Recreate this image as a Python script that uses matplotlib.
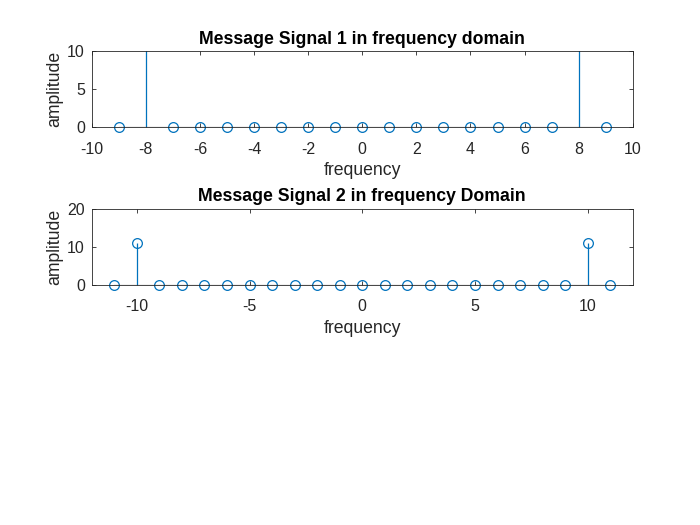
import numpy as np
import matplotlib.pyplot as plt
from matplotlib.transforms import Bbox, TransformedBbox

plt.rcParams['font.family'] = ['Liberation Sans', 'DejaVu Sans']
plt.rcParams['axes.unicode_minus'] = False

# signal 1 spectrum (peaks at +-8 run off the top of the axes)
freq1 = [-9, -8, -7, -6, -5, -4, -3, -2, -1, 0, 1, 2, 3, 4, 5, 6, 7, 8, 9]
amp1 = [0, 12, 0, 0, 0, 0, 0, 0, 0, 0, 0, 0, 0, 0, 0, 0, 0, 12, 0]

# signal 2 spectrum
freq2 = [-11, -10, -9, -8, -7, -6, -5, -4, -3, -2, -1, 0,
         1, 2, 3, 4, 5, 6, 7, 8, 9, 10, 11]
amp2 = [0, 11, 0, 0, 0, 0, 0, 0, 0, 0, 0, 0,
        0, 0, 0, 0, 0, 0, 0, 0, 0, 11, 0]

xticks1 = [-10, -8, -6, -4, -2, 0, 2, 4, 6, 8, 10]
yticks1 = [0, 5, 10]
xticks2 = [-10, -5, 0, 5, 10]
yticks2 = [0, 10, 20]

blue = '#0072BD'
txt = '#262626'

fig = plt.figure(figsize=(7, 5.25), dpi=100, facecolor='white')
ax1 = fig.add_axes([0.131, 0.758, 0.773, 0.144])
ax2 = fig.add_axes([0.131, 0.458, 0.773, 0.144])


def stem_panel(ax, x, y, xlim, ylim, xt, yt, title):
    markers, stems, base = ax.stem(x, y, linefmt='-', markerfmt='o', basefmt='k-')
    plt.setp(stems, color=blue, linewidth=0.9)
    plt.setp(markers, markerfacecolor='none', markeredgecolor=blue,
             markersize=7, markeredgewidth=0.9)
    plt.setp(base, linewidth=0.8)
    # let the circles sitting on the bottom spine show in full (like MATLAB)
    markers.set_clip_box(TransformedBbox(Bbox([[-0.05, -0.3], [1.05, 1]]), ax.transAxes))
    ax.set_xlim(*xlim)
    ax.set_ylim(*ylim)
    ax.set_xticks(xt)
    ax.set_yticks(yt)
    ax.tick_params(direction='in', length=3, width=0.6, top=True, right=True,
                   labelsize=11.5, colors=txt)
    ax.tick_params(axis='x', pad=10.5)
    ax.tick_params(axis='y', pad=5)
    for s in ax.spines.values():
        s.set_linewidth(0.6)
        s.set_color(txt)
    ax.set_title(title, fontsize=12.7, fontweight='bold', pad=5.5)
    ax.set_xlabel('frequency', fontsize=12.7, color=txt, labelpad=4)
    ax.set_ylabel('amplitude', fontsize=12.7, color=txt, labelpad=3)


stem_panel(ax1, freq1, amp1, (-10, 10), (0, 10), xticks1, yticks1,
           'Message Signal 1 in frequency domain')
stem_panel(ax2, freq2, amp2, (-12, 12), (0, 20), xticks2, yticks2,
           'Message Signal 2 in frequency Domain')

fig.savefig('out.png', dpi=100, facecolor='white')
